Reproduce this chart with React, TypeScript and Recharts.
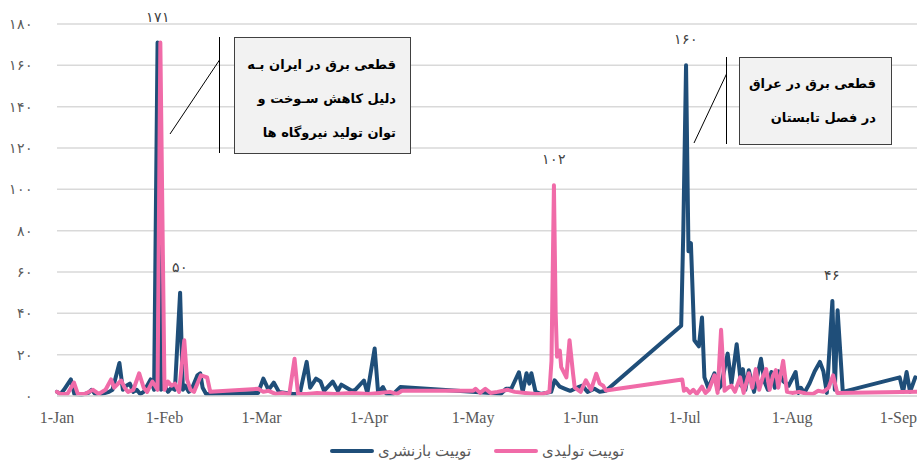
import React from 'react';
import { LineChart, Line, XAxis, YAxis, CartesianGrid } from 'recharts';

// day index counted from 1-Jan (non leap year)
const monthStarts = [0, 31, 59, 90, 120, 151, 181, 212, 243];
const monthLabels = ['1-Jan', '1-Feb', '1-Mar', '1-Apr', '1-May', '1-Jun', '1-Jul', '1-Aug', '1-Sep'];
const yTicks = [0, 20, 40, 60, 80, 100, 120, 140, 160, 180];

const seriesNames = ['توییت بازنشری', 'توییت تولیدی'];
const seriesColors = ['#1F4E79', '#F06BA8'];

// retweets (blue)
const retweetDays = [
  0, 1, 2, 4, 5, 7, 9, 10, 11, 13, 15, 16, 18, 19, 20, 21, 22, 23, 24, 25, 27, 28, 29, 30, 31, 32, 33, 34, 35.5, 36.3,
  37, 38, 39, 40.5, 41.3, 42, 43, 44.5, 58,
  59.5, 61, 62.5, 64, 66, 68, 70, 72, 73, 74.7, 76, 77, 79.5, 81, 82, 83.5, 85, 86, 88.5, 89.5, 91.6, 92.6, 94, 95, 97, 99,
  119.7, 125, 128, 129.5, 131, 133.2, 134.3, 135.4, 136.2, 136.8, 138, 139.5, 141, 142.5, 143.5, 145, 146.5, 148, 150,
  151.5, 153, 155, 156.5, 158.3,
  180, 180.6, 181.4, 182.1, 182.8, 183.8, 185.1, 186, 186.7, 187.8, 189.6, 190.5, 191.5, 193.4, 194.5, 196, 197.3, 197.8,
  198.5, 199.5, 201, 203, 204, 205, 206, 207, 208, 209.5, 211, 213, 213.8, 214.5, 215.5, 217, 218.5, 220, 221, 222,
  223.6, 224.3, 225.1, 226.6, 243, 244, 245, 246, 247.5,
];
const retweetValues = [
  2, 1, 3, 8, 1, 0.5, 1.5, 3, 1, 1, 2, 3, 16, 3, 5, 6, 2, 3, 1, 2, 8, 3, 171, 3, 5, 2, 4, 3, 50, 3,
  5, 2, 4, 10, 11, 4, 1, 1, 1.5,
  8.4, 3, 6.5, 2, 1.5, 1, 1, 16.5, 4, 8.4, 7, 2.5, 7, 2.5, 5.5, 4, 2.5, 3, 7.5, 1.5, 23, 1.5, 4.3, 1, 1, 4.3,
  2, 1.5, 1, 3.5, 3.5, 11.5, 2, 11, 6, 11, 2, 1, 1.5, 2, 7.6, 4.5, 3.5, 2.5, 4,
  5, 2, 3.5, 2, 2.5,
  34, 79, 160, 70, 74, 27, 24, 38, 9, 4, 11, 3, 5, 20.5, 6, 25, 5, 13,
  3, 12.5, 2, 18, 7, 3, 11.6, 4, 12, 7, 5, 11.6, 1.5, 4, 1.5, 6, 12, 16.5, 12, 1.5,
  46, 3, 41.5, 2, 9, 2, 11.6, 2, 9,
];

// original tweets (pink)
const tweetDays = [
  0, 1, 3, 4.9, 6, 8, 10.4, 12, 14, 15.6, 16.5, 18.5, 19.5, 20.5, 22, 23.7, 25, 26, 27.5, 29, 29.8, 31, 32, 33, 34, 35.2,
  36.7, 37.5, 38.5, 39.5, 41.5, 43.3, 44.2, 58,
  59.5, 61, 63, 65, 67, 68.5, 69.5, 72, 75, 80, 85, 90, 93, 96, 98, 99.5, 120, 120.7, 122, 123.5, 125, 127, 130, 132,
  135, 138, 140, 142, 142.6, 143.3, 143.8, 144.2, 145, 145.4, 146.9, 147.8, 148.8, 149.3, 151, 152.5, 154, 155.5, 156.5,
  157.5, 158.3, 180.3, 180.8,
  181.5, 182.5, 183.5, 184.5, 186, 187, 188, 189.6, 190.5, 191.5, 192.5, 193.5, 194.5, 195.5, 197, 198, 199.5, 200.5,
  201.5, 202.5, 203.5, 204.5, 205.5, 206.5, 207.3, 208, 209.4, 210.5, 212, 214, 216, 218, 219.5, 221, 222.5, 223.8,
  225, 248,
];
const tweetValues = [
  2, 1, 1, 6.5, 1, 1, 3, 1, 3, 8, 4, 7.5, 4, 2, 3, 11, 4, 2, 7, 3, 171, 3, 7, 5, 6, 2,
  27, 8, 3, 2, 10, 9, 2, 3.5,
  2, 2.5, 1, 1.5, 1, 18, 1, 1, 1.5, 1, 1.5, 1, 1.5, 2, 1, 2.5, 2.5, 3.5, 1.5, 3.5, 1.5, 2, 3, 2,
  1.5, 1, 1, 2, 17, 102, 40, 19, 22, 14, 9, 27, 11, 4, 2, 7.6, 3, 10.8, 6,
  5, 2.7, 8, 2.5,
  3.5, 1.5, 3, 1, 4.5, 1.5, 3, 10, 1.5, 32, 2.5, 4, 5, 2, 9, 1.5, 11, 4,
  13, 3, 9, 13, 3, 10, 12.5, 4, 17, 2, 1.5, 2, 1.2, 1, 2.5, 2, 4, 10,
  1.5, 2,
];

const retweetPeaks = [171, 50, 160, 46];
const tweetPeaks = [102];

const retweetData = retweetDays.map((d, i) => ({ day: d, value: retweetValues[i] }));
const tweetData = tweetDays.map((d, i) => ({ day: d, value: tweetValues[i] }));

const toFa = (v: number | string) => String(v).replace(/\d/g, (d) => '۰۱۲۳۴۵۶۷۸۹'[+d]);

const FONT = "'Liberation Serif', 'DejaVu Serif', serif";

const peakLabel = (peaks: number[]) => (props: any) => {
  const { x, y, value, index } = props;
  if (!peaks.includes(value)) return <g key={`l-${index}`} />;
  return (
    <text key={`l-${index}`} x={x} y={y - 21} textAnchor="middle" fontSize={14} fill="#404040" fontFamily={FONT}>
      {toFa(value)}
    </text>
  );
};

const boxStyle: React.CSSProperties = {
  position: 'absolute',
  background: '#F2F2F2',
  border: '1px solid #404040',
  boxSizing: 'border-box',
  direction: 'rtl',
  fontFamily: "'DejaVu Sans', sans-serif",
  fontWeight: 'bold',
  fontSize: 13,
  color: '#000',
  textAlign: 'right',
};

export default function App() {
  return (
    <div style={{ position: 'absolute', left: 0, top: 0, width: 917, height: 464, overflow: 'hidden', background: '#fff' }}>
      <LineChart width={917} height={464} margin={{ top: 24, right: 0, left: 0, bottom: 38 }}>
        <CartesianGrid vertical={false} stroke="#D9D9D9" strokeWidth={1.5} />
        <XAxis
          type="number"
          dataKey="day"
          domain={[0, 248]}
          ticks={monthStarts}
          tickFormatter={(v: number) => monthLabels[monthStarts.indexOf(v)]}
          tickLine={false}
          tickSize={0}
          tickMargin={16}
          axisLine={{ stroke: '#D9D9D9', strokeWidth: 1.5 }}
          tick={{ fontSize: 16, fill: '#595959', fontFamily: FONT }}
          height={30}
        />
        <YAxis
          type="number"
          domain={[0, 180]}
          ticks={yTicks}
          width={57}
          tickLine={false}
          axisLine={false}
          tickSize={0}
          tickMargin={24}
          tickFormatter={(v: number) => toFa(v)}
          tick={{ fontSize: 14, fill: '#595959', fontFamily: FONT }}
        />
        <Line
          data={retweetData}
          dataKey="value"
          name={seriesNames[0]}
          type="linear"
          stroke={seriesColors[0]}
          strokeWidth={4}
          strokeLinejoin="round"
          strokeLinecap="round"
          dot={false}
          activeDot={false}
          isAnimationActive={false}
          label={peakLabel(retweetPeaks)}
        />
        <Line
          data={tweetData}
          dataKey="value"
          name={seriesNames[1]}
          type="linear"
          stroke={seriesColors[1]}
          strokeWidth={4}
          strokeLinejoin="round"
          strokeLinecap="round"
          dot={false}
          activeDot={false}
          isAnimationActive={false}
          label={peakLabel(tweetPeaks)}
        />
      </LineChart>

      {/* callout leader lines */}
      <svg width={917} height={464} style={{ position: 'absolute', left: 0, top: 0, pointerEvents: 'none' }}>
        <line x1={219.5} y1={37} x2={219.5} y2={153} stroke="#000" strokeWidth={1} />
        <line x1={219.5} y1={60} x2={170} y2={134} stroke="#000" strokeWidth={1} />
        <line x1={726.5} y1={57} x2={726.5} y2={144} stroke="#000" strokeWidth={1} />
        <line x1={726.5} y1={74} x2={694} y2={143} stroke="#000" strokeWidth={1} />
      </svg>

      <div style={{ ...boxStyle, left: 234, top: 37, width: 177, height: 117, padding: '10px 14px 0 8px', lineHeight: '34px' }}>
        <div>قطعی برق در ایران بـه</div>
        <div>دلیل کاهش سـوخت و</div>
        <div>توان تولید نیروگاه ها</div>
      </div>
      <div style={{ ...boxStyle, left: 739, top: 57, width: 153, height: 88, padding: '9px 15px 0 8px', lineHeight: '34px' }}>
        <div>قطعی برق در عراق</div>
        <div>در فصل تابستان</div>
      </div>

      <div
        style={{
          position: 'absolute',
          left: 330,
          top: 442,
          display: 'flex',
          alignItems: 'center',
          fontFamily: FONT,
          fontSize: 15,
          color: '#595959',
        }}
      >
        {seriesNames.map((n, i) => (
          <div key={n} style={{ display: 'flex', alignItems: 'center', marginRight: 23 }}>
            <div style={{ width: 44, height: 4, borderRadius: 2, background: seriesColors[i], marginRight: 4 }} />
            <span>{n}</span>
          </div>
        ))}
      </div>
    </div>
  );
}
